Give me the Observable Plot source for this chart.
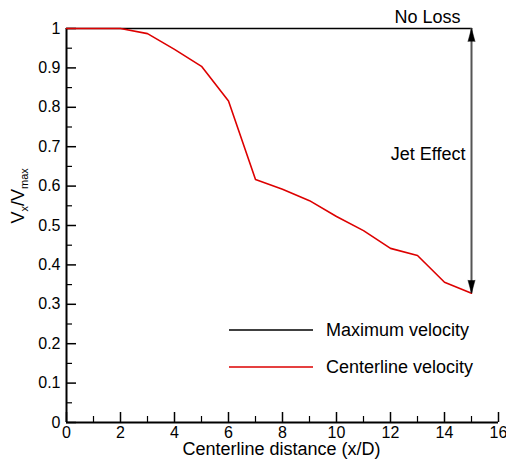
<!DOCTYPE html>
<html><head><meta charset="utf-8">
<script src="https://cdn.jsdelivr.net/npm/d3@7"></script>
<script src="https://cdn.jsdelivr.net/npm/@observablehq/plot@0.6"></script>
<style>body{margin:0;background:#fff}</style>
</head><body><div id="chart"></div>
<script>
// Data
const distance = [0, 1, 2, 3, 4, 5, 6, 7, 8, 9, 10, 11, 12, 13, 14, 15];
const centerlineVelocity = [1, 1, 1, 0.987, 0.947, 0.904, 0.816, 0.617, 0.592, 0.563, 0.523, 0.487, 0.442, 0.424, 0.356, 0.328];
const maxDistance = [0, 15];
const maxVelocity = [1, 1];
const xMajor = [0, 2, 4, 6, 8, 10, 12, 14, 16];
const xMinor = [1, 3, 5, 7, 9, 11, 13, 15];
const yMajor = [0, 0.1, 0.2, 0.3, 0.4, 0.5, 0.6, 0.7, 0.8, 0.9, 1];
const yMinor = [0.05, 0.15, 0.25, 0.35, 0.45, 0.55, 0.65, 0.75, 0.85, 0.95];
const legendItems = [
  {label: "Maximum velocity", color: "#000000"},
  {label: "Centerline velocity", color: "#dd0000"}
];
const noLossLabel = "No Loss";
const jetLabel = "Jet Effect";
const xTitle = "Centerline distance (x/D)";

const W = 506, H = 462;
const mT = 28, mB = 40, mL = 66, mR = 8;
const fh = H - mT - mB, fw = W - mL - mR;
const FONT = "'Liberation Sans', Arial, Helvetica, sans-serif";
const arrowX = maxDistance[1];
const arrowTop = maxVelocity[1];
const arrowBottom = centerlineVelocity[centerlineVelocity.length - 1];

const plot = Plot.plot({
  width: W, height: H,
  marginTop: mT, marginBottom: mB, marginLeft: mL, marginRight: mR,
  x: {domain: [0, 16]},
  y: {domain: [0, 1]},
  style: {fontFamily: FONT, fontSize: "16px", background: "white", color: "black", overflow: "visible"},
  marks: [
    Plot.axisX({ticks: xMajor, tickSize: 0, tickPadding: 4, tickFormat: d => String(d), label: null}),
    Plot.axisY({ticks: yMajor, tickSize: 0, tickPadding: 6, tickFormat: d => String(+d.toFixed(1)), label: null}),
    Plot.tickX(xMajor, {x: d => d, insetTop: fh - 10, stroke: "black", strokeWidth: 1.5}),
    Plot.tickX(xMinor, {x: d => d, insetTop: fh - 6, stroke: "black", strokeWidth: 1.2}),
    Plot.tickY(yMajor, {y: d => d, insetRight: fw - 10, stroke: "black", strokeWidth: 1.5}),
    Plot.tickY(yMinor, {y: d => d, insetRight: fw - 6, stroke: "black", strokeWidth: 1.2}),
    Plot.ruleX([0], {stroke: "black", strokeWidth: 2}),
    Plot.ruleY([0], {stroke: "black", strokeWidth: 2}),
    Plot.line(maxDistance, {x: maxDistance, y: maxVelocity, stroke: "black", strokeWidth: 1.6}),
    Plot.line(distance, {x: distance, y: centerlineVelocity, stroke: "#dd0000", strokeWidth: 1.6}),
    Plot.ruleX([arrowX], {x: d => d, y1: arrowBottom, y2: arrowTop, stroke: "#555555", strokeWidth: 2}),
    Plot.vector([arrowTop], {x: () => arrowX, y: d => d, length: 13, r: 3.5, rotate: 0, anchor: "end", shape: "spike", fill: "black", stroke: "black", strokeWidth: 0.5}),
    Plot.vector([arrowBottom], {x: () => arrowX, y: d => d, length: 13, r: 3.5, rotate: 180, anchor: "end", shape: "spike", fill: "black", stroke: "black", strokeWidth: 0.5}),
    Plot.text([noLossLabel], {x: () => arrowX, y: () => arrowTop, text: d => d, textAnchor: "end", lineAnchor: "bottom", dx: -11, dy: -6, fontSize: 18}),
    Plot.text([jetLabel], {x: () => arrowX, y: () => (arrowTop + arrowBottom) / 2, text: d => d, textAnchor: "end", lineAnchor: "middle", dx: -6, dy: -7, fontSize: 18}),
    Plot.text([xTitle], {frameAnchor: "bottom", text: d => d, lineAnchor: "bottom", dx: -1, dy: 32, fontSize: 18}),
    Plot.text(["Vx/Vmax"], {frameAnchor: "left", text: d => d, rotate: -90, lineAnchor: "bottom", dx: -43, dy: -2, fontSize: 18, className: "ytitle"})
  ]
});

document.getElementById("chart").appendChild(plot);

// Rebuild the y title with subscripts
const svg = d3.select(plot);
svg.selectAll(".ytitle text").each(function() {
  const t = d3.select(this);
  t.text(null);
  t.append("tspan").text("V");
  t.append("tspan").attr("font-size", 11).attr("dy", 4).text("x");
  t.append("tspan").attr("font-size", 18).attr("dy", -4).text("/V");
  t.append("tspan").attr("font-size", 11).attr("dy", 4).text("max");
});

// Legend inside the frame
const leg = svg.append("g").attr("font-family", FONT).attr("font-size", 18).attr("text-anchor", "start");
legendItems.forEach((item, i) => {
  const y = 330 + i * 37;
  leg.append("line").attr("x1", 229).attr("x2", 313).attr("y1", y).attr("y2", y)
    .attr("stroke", item.color).attr("stroke-width", 1.6);
  leg.append("text").attr("x", 326).attr("y", y).attr("dy", "0.35em").attr("fill", "black")
    .attr("text-anchor", "start").text(item.label);
});
</script>
</body></html>
